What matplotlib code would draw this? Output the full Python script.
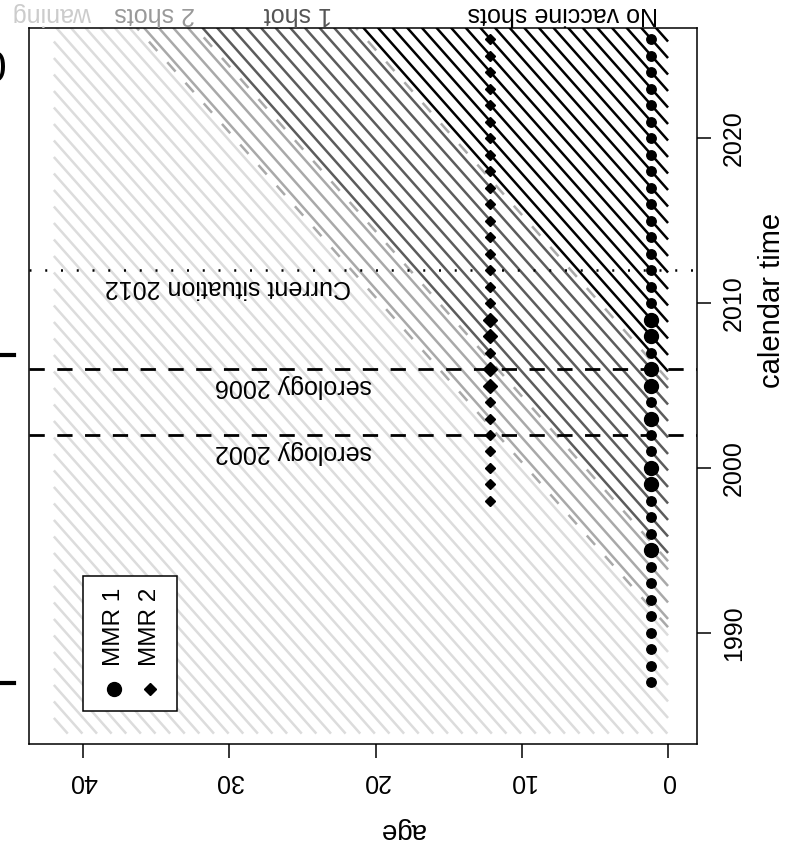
import matplotlib
matplotlib.use("Agg")
import matplotlib.pyplot as plt
from matplotlib.patches import Rectangle

plt.rcParams['font.family'] = ['Liberation Sans', 'DejaVu Sans']

# --- data ---
mmr1_years = list(range(1987, 2027))
mmr1_big = [1995, 1999, 2000, 2003, 2005, 2006, 2008, 2009]
mmr2_years = list(range(1998, 2027))
mmr2_big = [2005, 2006, 2008, 2009]
mmr1_age = 1.15
mmr2_age = 12.15
serology_years = [2002, 2006]
current_year = 2012

# birth cohorts (one line per cohort) and the status groups
cohort_years = list(range(1943, 2028))
cohort_offset = -0.15
group_edges = [1990.85, 1994.85, 2005.85]
group_colors = ['#dcdcdc', '#a9a9a9', '#5c5c5c', '#000000']
dashed_cohorts = [1990.35, 1994.35, 2005.35]
status_labels = ['No vaccine shots', '1 shot', '2 shots', 'waning']
status_colors = ['#000000', '#555555', '#999999', '#cccccc']
status_pos = [7.2, 25.3, 35.1, 42.1]

age_min, age_max = 0, 42
t_min, t_max = 1983.9, 2026.7

W, H = 794, 856
fig = plt.figure(figsize=(W / 100, H / 100), dpi=100)
ax = fig.add_axes([29 / W, 1 - 744 / H, (697 - 29) / W, (744 - 28) / H])
ax.set_xlim(43.7, -1.98)
ax.set_ylim(1983.27, 2026.67)


def group_color(b):
    i = 0
    for e in group_edges:
        if b >= e:
            i += 1
    return group_colors[i]


# cohort lines
for k in cohort_years:
    b = k + cohort_offset
    a0 = max(age_min, t_min - b)
    a1 = min(age_max, t_max - b)
    if a1 <= a0:
        continue
    ax.plot([a0, a1], [b + a0, b + a1], color=group_color(b), lw=1.8,
            solid_capstyle='butt', zorder=1)

for b in dashed_cohorts:
    a0 = max(age_min, t_min - b)
    a1 = min(age_max, t_max - b)
    ax.plot([a0, a1], [b + a0, b + a1], color='#a9a9a9', lw=1.8,
            dashes=(5, 6), zorder=1)

# serology / current situation lines
for y in serology_years:
    ax.axhline(y, color='black', lw=2, dashes=(5.5, 4.5), zorder=2)
ax.axhline(current_year, color='black', lw=1.8, dashes=(0.8, 5.5), zorder=2)

ax.text(25.6, 2004.95, 'serology 2006', rotation=180, ha='center', va='center', fontsize=18)
ax.text(25.6, 2000.95, 'serology 2002', rotation=180, ha='center', va='center', fontsize=18)
ax.text(30.1, 2010.95, 'Current situation 2012', rotation=180, ha='center', va='center', fontsize=18)

# vaccination points
for y in mmr1_years:
    ax.plot(mmr1_age, y, 'o', color='black', ms=10 if y in mmr1_big else 6.8, zorder=3)
for y in mmr2_years:
    ax.plot(mmr2_age, y, 'D', color='black', ms=7 if y in mmr2_big else 4.8, zorder=3)

# axes
for s in ax.spines.values():
    s.set_linewidth(1.1)
ax.set_xticks([0, 10, 20, 30, 40])
ax.set_xticklabels(['0', '10', '20', '30', '40'], rotation=180, fontsize=18)
ax.yaxis.tick_right()
ax.set_yticks([1990, 2000, 2010, 2020])
ax.set_yticklabels(['1990', '2000', '2010', '2020'], rotation=90, va='center', fontsize=18)
ax.tick_params(length=10, width=1.1, pad=8)
fig.text(402 / W, 1 - 830 / H, 'age', rotation=180, ha='center', va='center', fontsize=20)
fig.text(772 / W, 1 - 300 / H, 'calendar time', rotation=90, ha='center', va='center', fontsize=21)

# status labels above the box
for lab, col, x in zip(status_labels, status_colors, status_pos):
    ax.text(x, 1.02, lab, rotation=180, ha='center', va='center', fontsize=18,
            color=col, transform=ax.get_xaxis_transform(), clip_on=False)

# legend
ax.add_patch(Rectangle((33.6, 1985.3), 6.4, 8.15, fill=False, ec='black', lw=1.1,
                       zorder=4))
ax.add_patch(Rectangle((33.6, 1985.3), 6.4, 8.15, fill=True, ec='none',
                       facecolor='white', zorder=3.9))
ax.plot(37.9, 1986.6, 'o', color='black', ms=10, zorder=5)
ax.plot(35.4, 1986.6, 'D', color='black', ms=6, zorder=5)
ax.text(37.9, 1988.0, 'MMR 1', rotation=90, ha='center', va='bottom', fontsize=17.5, zorder=5)
ax.text(35.4, 1988.0, 'MMR 2', rotation=90, ha='center', va='bottom', fontsize=17.5, zorder=5)

# fragments at the left edge
fig.text(-6 / W, 1 - 70 / H, '0', ha='center', va='center', fontsize=32)
for yp in [355, 683]:
    fig.add_artist(plt.Line2D([0, 14 / W], [1 - yp / H, 1 - yp / H], color='black', lw=3))

fig.savefig('out.png', dpi=100)
